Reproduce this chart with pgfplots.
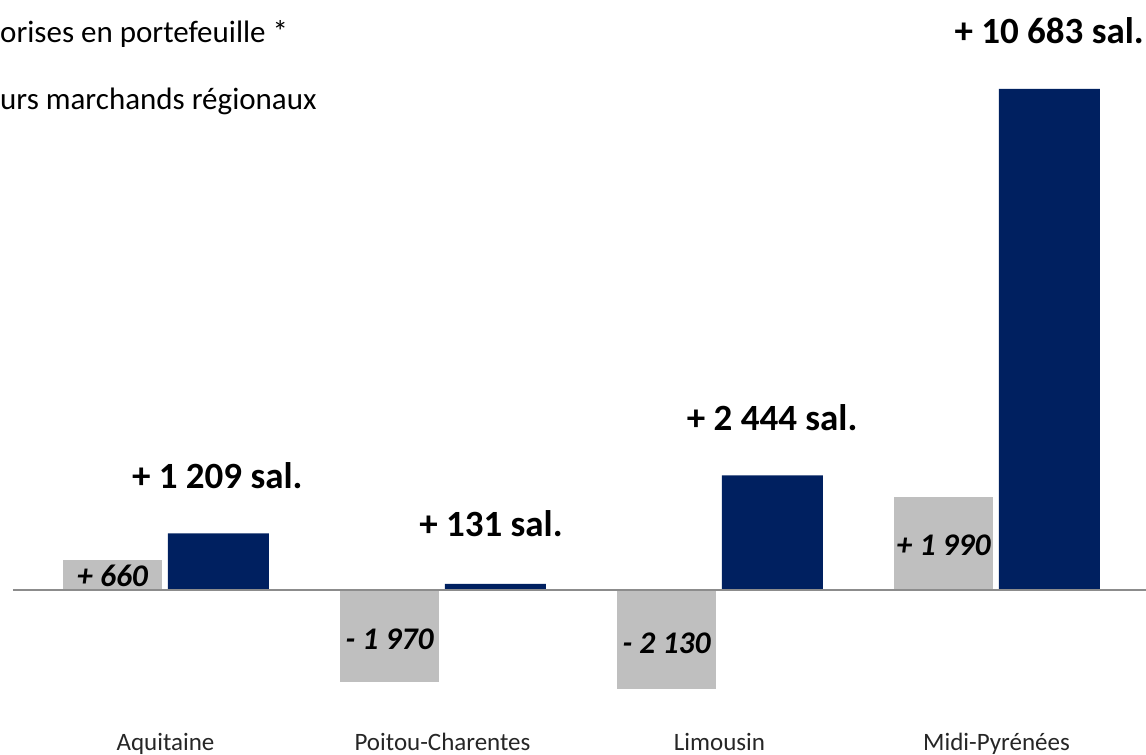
\documentclass[border=0pt]{standalone}
\usepackage{pgfplots}
\pgfplotsset{compat=1.18}
\usepackage{fontspec}
\setmainfont{Carlito}
\definecolor{navy}{HTML}{002060}
\definecolor{lgray}{HTML}{BFBFBF}
\definecolor{zline}{HTML}{8C8C8C}
\begin{document}
\begin{tikzpicture}[x=1pt,y=1pt]
\useasboundingbox (0,0) rectangle (1146,755);
\node[anchor=base west, font=\fontsize{31}{36}\selectfont, inner sep=0pt] at (0,712.5) {orises en portefeuille *};
\node[anchor=base west, font=\fontsize{31}{36}\selectfont, inner sep=0pt] at (0,645) {urs marchands régionaux};
\begin{axis}[
  at={(13pt,24.3pt)}, anchor=south west,
  scale only axis, width=1133pt, height=656.6pt,
  xmin=-0.5505, xmax=3.5397, ymin=-3000, ymax=11000,
  axis line style={draw=none}, major tick length=0pt,
  ybar, bar width=101pt,
  xtick={0,1,2,3},
  xticklabels={Aquitaine,Poitou-Charentes,Limousin,Midi-Pyrénées},
  xticklabel style={anchor=base, yshift=-20pt, font=\fontsize{25}{29}\selectfont, text=black!85},
  ytick=\empty,
  clip=false,
]
\addplot[fill=lgray, draw=white, line width=1.5pt, bar shift=0pt] coordinates {(-0.191,660) (0.809,-1970) (1.809,-2130) (2.809,1990)};
\addplot[fill=navy, draw=none, bar shift=0pt] coordinates {(0.191,1209) (1.191,131) (2.191,2444) (3.191,10683)};
\draw[zline, line width=2.5pt] (axis cs:-0.5505,0) -- (axis cs:3.5397,0);
\node[font=\fontsize{31.5}{36}\selectfont\bfseries\itshape] at (axis cs:-0.191,299) {+ 660};
\node[font=\fontsize{31.5}{36}\selectfont\bfseries\itshape] at (axis cs:0.809,-1045) {- 1 970};
\node[font=\fontsize{31.5}{36}\selectfont\bfseries\itshape] at (axis cs:1.809,-1130) {- 2 130};
\node[font=\fontsize{31.5}{36}\selectfont\bfseries\itshape] at (axis cs:2.809,960) {+ 1 990};
\node[font=\fontsize{37}{42}\selectfont\bfseries] at (axis cs:0.187,2431) {+ 1 209 sal.};
\node[font=\fontsize{37}{42}\selectfont\bfseries] at (axis cs:1.175,1407) {+ 131 sal.};
\node[font=\fontsize{37}{42}\selectfont\bfseries] at (axis cs:2.19,3668) {+ 2 444 sal.};
\node[font=\fontsize{37}{42}\selectfont\bfseries] at (axis cs:3.19,11920) {+ 10 683 sal.};
\end{axis}
\end{tikzpicture}
\end{document}
